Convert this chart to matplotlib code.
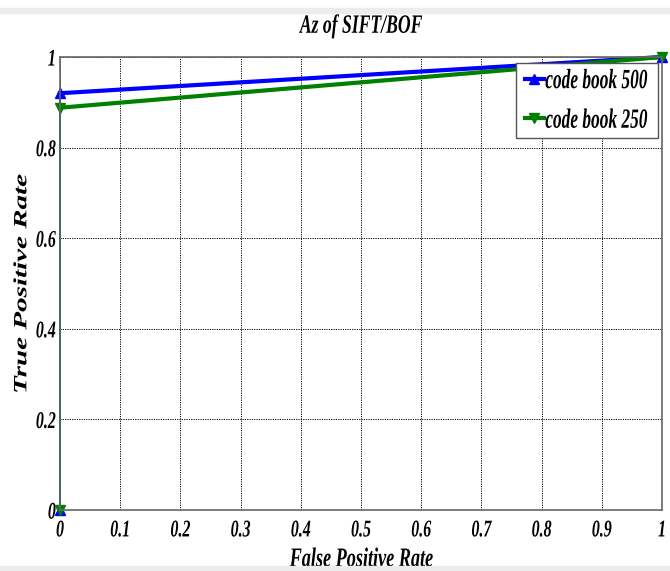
import matplotlib
matplotlib.use("Agg")
import matplotlib.pyplot as plt
from matplotlib.patches import Rectangle
from matplotlib.lines import Line2D
from matplotlib.patheffects import AbstractPathEffect
from matplotlib.transforms import Affine2D

# ROC points
fpr_500 = [0.0, 0.0, 1.0]
tpr_500 = [0.0, 0.92, 1.0]
fpr_250 = [0.0, 0.0, 1.0]
tpr_250 = [0.0, 0.888, 1.0]

xticks = [0, 0.1, 0.2, 0.3, 0.4, 0.5, 0.6, 0.7, 0.8, 0.9, 1]
xticklabels = ["0", "0.1", "0.2", "0.3", "0.4", "0.5", "0.6", "0.7", "0.8", "0.9", "1"]
yticks = [0, 0.2, 0.4, 0.6, 0.8, 1]
yticklabels = ["0", "0.2", "0.4", "0.6", "0.8", "1"]
labels = ["code book 500", "code book 250"]


class Stretch(AbstractPathEffect):
    """scale glyphs about their centre (the screenshot is stretched vertically)"""
    def __init__(self, sx=1.0, sy=1.0):
        super().__init__()
        self.sx, self.sy = sx, sy

    def draw_path(self, renderer, gc, tpath, affine, rgbFace=None):
        ext = tpath.get_extents()
        cx = ext.x0 + ext.width / 2.0
        cy = ext.y0 + ext.height / 2.0
        t = Affine2D().translate(-cx, -cy).scale(self.sx, self.sy).translate(cx, cy) + affine
        renderer.draw_path(gc, tpath, t, rgbFace)


tall = [Stretch(1.0, 1.5)]
font = {"family": "Liberation Serif", "weight": "bold", "style": "italic"}

fig = plt.figure(figsize=(6.7, 5.71), dpi=100)
ax = fig.add_axes([0.0896, 0.1068, 0.8985, 0.7934])

# page decorations of the screenshot
fig.patches.append(Rectangle((0.0, 0.977), 1.0, 0.009, transform=fig.transFigure,
                             color="#ececec", zorder=0))
fig.patches.append(Rectangle((0.0, 0.0), 1.0, 0.009, transform=fig.transFigure,
                             color="#ececec", zorder=0))

# thin vertical segments, thick sloped segments
ax.plot(fpr_500[:2], tpr_500[:2], color="blue", lw=1.2)
ax.plot(fpr_250[:2], tpr_250[:2], color="green", lw=1.2)
ax.plot(fpr_500[1:], tpr_500[1:], color="blue", lw=3)
ax.plot(fpr_250[1:], tpr_250[1:], color="green", lw=3)
ax.plot(fpr_500, tpr_500, ls="none", marker="^", ms=7, color="blue")
ax.plot(fpr_250, tpr_250, ls="none", marker="v", ms=7, color="green")
for line in ax.lines:
    line.set_clip_on(False)

ax.set_xlim(0, 1)
ax.set_ylim(0, 1)
ax.set_xticks(xticks)
ax.set_xticklabels(xticklabels, fontsize=11.5, **font)
ax.set_yticks(yticks)
ax.set_yticklabels(yticklabels, fontsize=11.5, **font)
ax.tick_params(axis="x", length=0, pad=8.5)
ax.tick_params(axis="y", length=0, pad=3)
for t in ax.get_xticklabels() + ax.get_yticklabels():
    t.set_path_effects(tall)
ax.grid(True, ls=(0, (1.2, 1.2)), color="black", lw=0.7)
for s in ax.spines.values():
    s.set_color("#666666")
    s.set_linewidth(1.2)

ax.set_title("Az of SIFT/BOF", fontsize=12.7, pad=19, path_effects=tall, **font)
ax.set_xlabel("False Positive Rate", fontsize=13.1, labelpad=9, path_effects=tall, **font)
ax.set_ylabel("True Positive Rate", fontsize=13.5, labelpad=4,
              path_effects=[Stretch(1.55, 1.0)], **font)

# legend with line + marker samples
handles = [Line2D([], [], color="blue", lw=3, marker="^", ms=7),
           Line2D([], [], color="green", lw=3, marker="v", ms=7)]
leg = ax.legend(handles, labels, loc="upper right",
                bbox_to_anchor=(0.993, 0.987), borderaxespad=0,
                fancybox=False, framealpha=1, edgecolor="#555555",
                handlelength=1.05, handletextpad=0.1,
                borderpad=0.55, labelspacing=1.35,
                prop={"family": "Liberation Serif", "weight": "bold",
                      "style": "italic", "size": 12.5})
leg.get_frame().set_linewidth(1.0)
for t in leg.get_texts():
    t.set_path_effects([Stretch(1.0, 1.6)])

fig.savefig("out.png", dpi=100)
